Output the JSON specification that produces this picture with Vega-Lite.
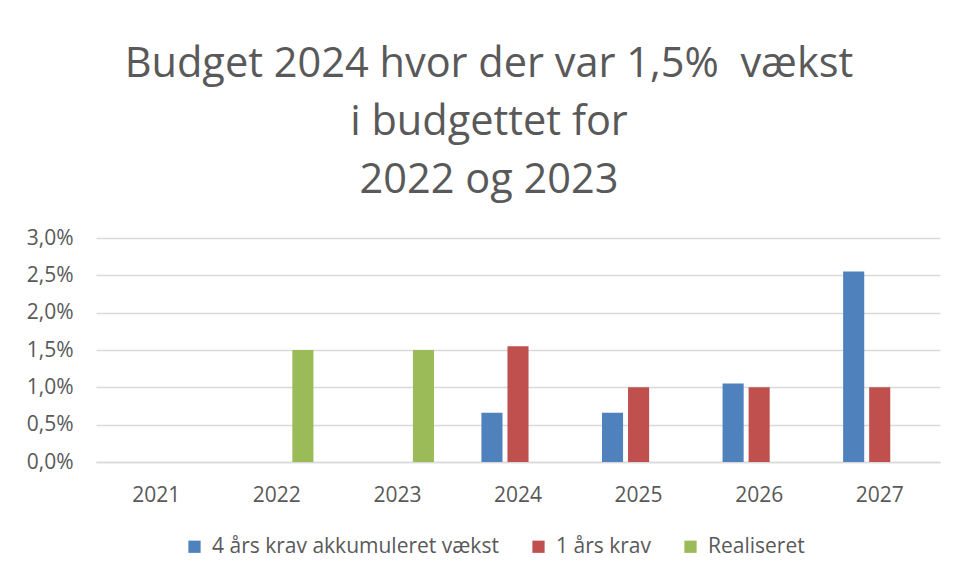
{
  "$schema": "https://vega.github.io/schema/vega-lite/v6.json",
  "width": 844,
  "height": 224,
  "autosize": {"type": "none"},
  "padding": {"left": 96, "top": 238, "right": 17, "bottom": 114},
  "background": "white",
  "config": {
    "locale": {"number": {"decimal": ",", "thousands": ".", "grouping": [3], "currency": ["", " kr."]}},
    "view": {"stroke": null},
    "font": "Open Sans"
  },
  "title": {
    "text": ["Budget 2024 hvor der var 1,5%\u00a0 vækst", "i budgettet for", "2022 og 2023"],
    "fontSize": 41.5,
    "fontWeight": "normal",
    "font": "Open Sans",
    "color": "#595959",
    "lineHeight": 58,
    "anchor": "middle",
    "dx": -29,
    "offset": 26
  },
  "data": {
    "values": [
      {"year": "2022", "series": "Realiseret", "value": 0.015},
      {"year": "2023", "series": "Realiseret", "value": 0.015},
      {"year": "2024", "series": "4 års krav akkumuleret vækst", "value": 0.0066},
      {"year": "2024", "series": "1 års krav", "value": 0.0155},
      {"year": "2025", "series": "4 års krav akkumuleret vækst", "value": 0.0066},
      {"year": "2025", "series": "1 års krav", "value": 0.01},
      {"year": "2026", "series": "4 års krav akkumuleret vækst", "value": 0.0105},
      {"year": "2026", "series": "1 års krav", "value": 0.01},
      {"year": "2027", "series": "4 års krav akkumuleret vækst", "value": 0.0255},
      {"year": "2027", "series": "1 års krav", "value": 0.01}
    ]
  },
  "mark": {"type": "bar"},
  "encoding": {
    "x": {
      "field": "year",
      "type": "nominal",
      "scale": {"domain": ["2021", "2022", "2023", "2024", "2025", "2026", "2027"], "paddingInner": 0, "paddingOuter": 0},
      "axis": {
        "title": null,
        "labelAngle": 0,
        "labelFontSize": 21,
        "labelColor": "#595959",
        "labelPadding": 22,
        "ticks": false,
        "domainColor": "#D9D9D9",
        "domainWidth": 1.5
      }
    },
    "xOffset": {
      "field": "series",
      "type": "nominal",
      "scale": {"domain": ["4 års krav akkumuleret vækst", "1 års krav", "Realiseret"], "paddingInner": 0.19, "paddingOuter": 0.91}
    },
    "y": {
      "field": "value",
      "type": "quantitative",
      "scale": {"domain": [0, 0.03], "nice": false},
      "axis": {
        "title": null,
        "format": ".1%",
        "values": [0, 0.005, 0.01, 0.015, 0.02, 0.025, 0.03],
        "labelFontSize": 21,
        "labelColor": "#595959",
        "labelPadding": 23,
        "ticks": false,
        "domain": false,
        "gridColor": "#D9D9D9",
        "gridWidth": 1.5
      }
    },
    "color": {
      "field": "series",
      "type": "nominal",
      "scale": {"domain": ["4 års krav akkumuleret vækst", "1 års krav", "Realiseret"], "range": ["#4F81BD", "#C0504D", "#9BBB59"]},
      "legend": {
        "title": null,
        "orient": "none",
        "direction": "horizontal",
        "legendX": 88,
        "legendY": 298,
        "symbolType": "square",
        "symbolSize": 150,
        "symbolStrokeWidth": 0,
        "labelFontSize": 21,
        "labelColor": "#595959",
        "labelOffset": 7,
        "columnPadding": 29,
        "labelLimit": 400
      }
    }
  }
}
